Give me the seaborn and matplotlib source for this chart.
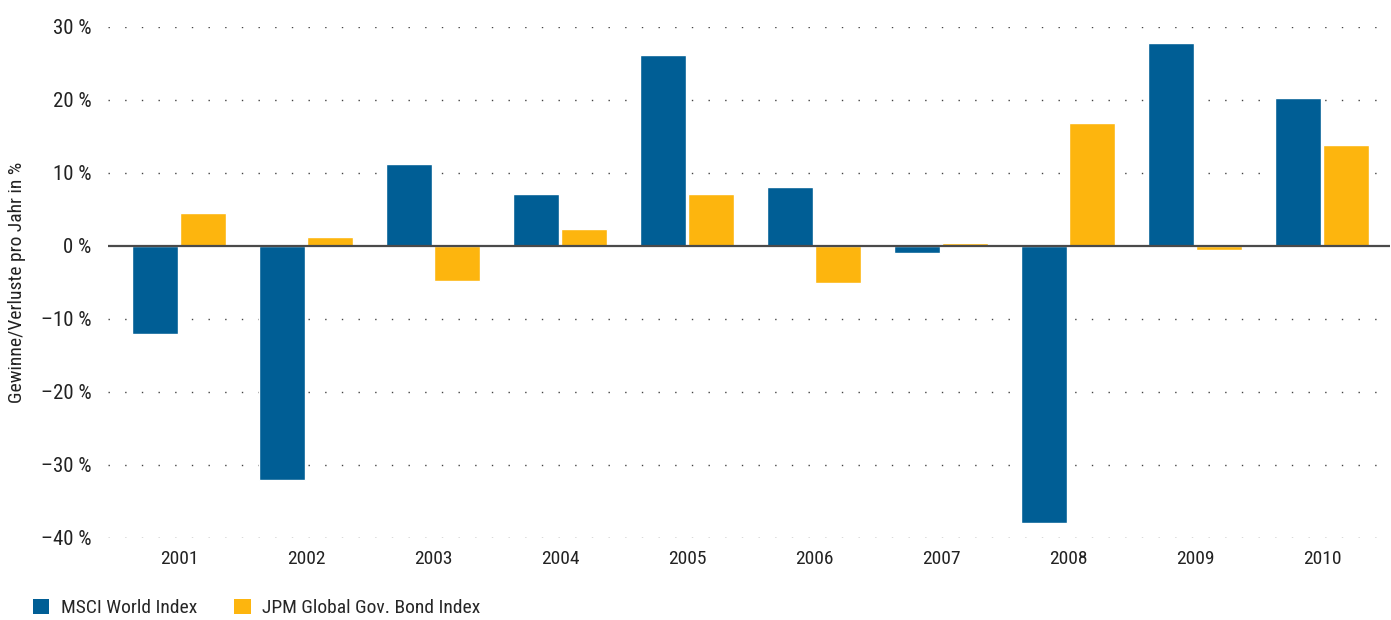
import matplotlib
matplotlib.use("Agg")
import matplotlib.pyplot as plt
import seaborn as sns
import pandas as pd
from matplotlib.patches import Patch

years = ["2001", "2002", "2003", "2004", "2005", "2006", "2007", "2008", "2009", "2010"]
msci = [-12.0, -32.0, 11.2, 7.1, 26.2, 8.1, -1.0, -37.9, 27.8, 20.3]
jpm = [4.5, 1.2, -4.8, 2.3, 7.1, -5.1, 0.35, 16.8, -0.5, 13.8]
series_names = ["MSCI World Index", "JPM Global Gov. Bond Index"]
y_ticks = [30, 20, 10, 0, -10, -20, -30, -40]
y_label = "Gewinne/Verluste pro Jahr in %"
colors = ["#005E95", "#FDB50E"]

df = pd.DataFrame({
    "Jahr": years * 2,
    "Wert": msci + jpm,
    "Serie": [series_names[0]] * len(years) + [series_names[1]] * len(years),
})

sns.set_theme(style="white")
plt.rcParams["font.family"] = ["Roboto Condensed", "Roboto", "DejaVu Sans"]

fig = plt.figure(figsize=(13.91, 6.2), dpi=100)
ax = fig.add_axes([0.0776, 0.1323, 0.9214, 0.8242])

sns.barplot(data=df, x="Jahr", y="Wert", hue="Serie", palette=colors,
            width=0.76, gap=0.05, ax=ax, legend=False, saturation=1)

ax.set_ylim(-40, 30)
ax.set_xlim(-0.56, 9.53)
ax.set_yticks(y_ticks)
ax.set_yticklabels([(f"{t} %" if t >= 0 else f"\u2013{abs(t)} %") for t in y_ticks], fontsize=15, color="#222222")
ax.tick_params(axis="x", labelsize=14, colors="#222222", length=0, pad=9)
ax.tick_params(axis="y", length=0, pad=12)
for s in ax.spines.values():
    s.set_visible(False)

for t in y_ticks:
    if t != 0:
        ax.axhline(t, color="#444444", lw=1.0, ls=(0, (1, 11)), zorder=0)
ax.axhline(0, color="#4a4a4a", lw=1.6, zorder=3)

ax.set_xlabel("")
ax.set_ylabel(y_label, fontsize=14, color="#222222")
ax.yaxis.set_label_coords(-0.064, 0.5)

handles = [Patch(facecolor=c, edgecolor="none") for c in colors]
fig.legend(handles, series_names, loc="lower left", bbox_to_anchor=(0.011, -0.024),
           ncol=2, frameon=False, fontsize=14, handlelength=0.85, handleheight=0.85,
           handletextpad=0.6, columnspacing=1.9)

fig.savefig("out.png", dpi=100)
